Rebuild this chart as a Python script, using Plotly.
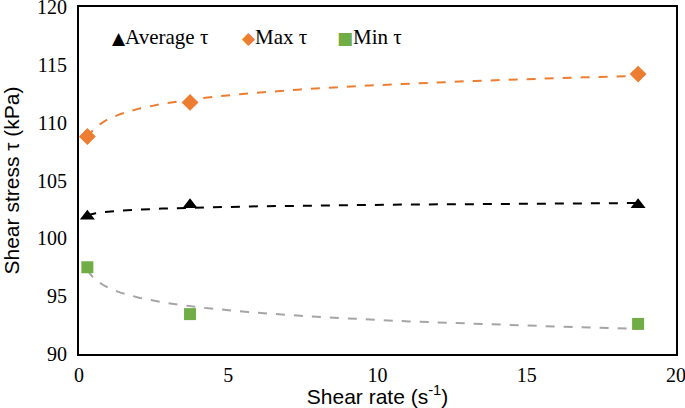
import numpy as np
import plotly.graph_objects as go

shear_rate = [0.28, 3.72, 18.73]
avg_tau = [101.9, 102.9, 102.9]
max_tau = [108.8, 111.75, 114.2]
min_tau = [97.5, 93.45, 92.6]

series = [
    ("Average τ", avg_tau, "black", "triangle-up", 13, "black", "▲"),
    ("Max τ", max_tau, "#ED7D31", "diamond", 13, "#ED7D31", "◆"),
    ("Min τ", min_tau, "#70AD47", "square", 12, "#A5A5A5", "■"),
]
legend_x = [0.052, 0.270, 0.428]

fig = go.Figure()
xs = np.linspace(min(shear_rate), max(shear_rate), 200)
for name, ys, col, sym, sz, tcol, g in series:
    b, a = np.polyfit(np.log(shear_rate), ys, 1)
    fig.add_trace(go.Scatter(x=xs, y=a + b * np.log(xs), mode="lines",
                             line=dict(color=tcol, width=2, dash="dash"),
                             showlegend=False, hoverinfo="skip"))
for (name, ys, col, sym, sz, tcol, g), lx in zip(series, legend_x):
    fig.add_trace(go.Scatter(x=shear_rate, y=ys, mode="markers", name=name,
                             showlegend=False,
                             marker=dict(symbol=sym, size=sz, color=col)))
    fig.add_annotation(xref="paper", yref="paper", x=lx, y=0.9135,
                       xanchor="left", yanchor="middle", showarrow=False,
                       text=f"<span style='color:{col};font-family:DejaVu Sans;font-size:17px'>{g}</span>{name}",
                       font=dict(family="Liberation Serif", size=21, color="black"))

axis_common = dict(showgrid=False, zeroline=False, showline=True, linecolor="black",
                   linewidth=2, mirror=True, ticks="", automargin=False,
                   ticklabeloverflow="allow",
                   tickfont=dict(family="Liberation Serif", size=20, color="black"))
fig.update_xaxes(range=[0, 20], dtick=5, ticklabelstandoff=2, **axis_common,
                 title=dict(text="Shear rate (s<sup>-1</sup>)", standoff=2,
                            font=dict(family="Liberation Sans", size=21, color="black")))
fig.update_yaxes(range=[90, 120], dtick=5, ticklabelstandoff=6, **axis_common,
                 title=dict(text="Shear stress τ (kPa)", standoff=14,
                            font=dict(family="Liberation Sans", size=21, color="black")))
fig.update_layout(
    width=685, height=408,
    margin=dict(l=79, r=9, t=7, b=54),
    plot_bgcolor="white", paper_bgcolor="white",
    showlegend=False,
)
fig.write_html("out.html", config={"displayModeBar": False},
               post_script="document.body.style.margin='0';")
